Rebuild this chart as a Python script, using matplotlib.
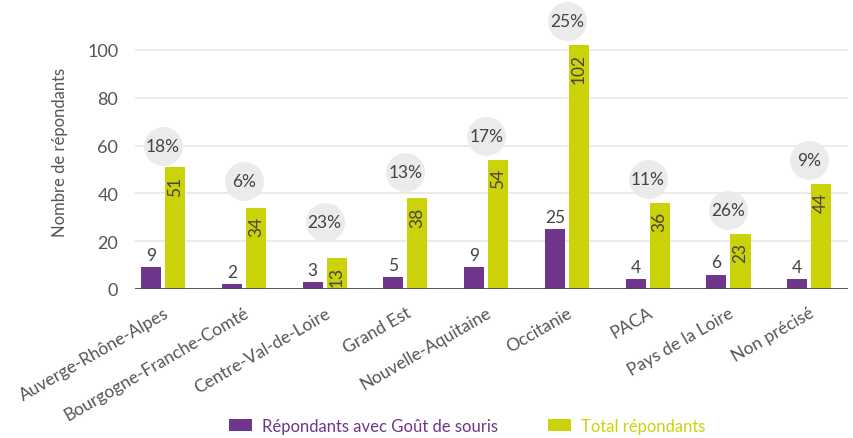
import matplotlib
matplotlib.use("Agg")
import matplotlib.pyplot as plt
import numpy as np

# regional breakdown of survey respondents
regions = ["Auverge-Rhône-Alpes", "Bourgogne-Franche-Comté", "Centre-Val-de-Loire",
           "Grand Est", "Nouvelle-Aquitaine", "Occitanie", "PACA",
           "Pays de la Loire", "Non précisé"]
gout_souris = [9, 2, 3, 5, 9, 25, 4, 6, 4]
total = [51, 34, 13, 38, 54, 102, 36, 23, 44]
# extra height of each percentage badge above its total bar
badge_lift = [9, 11, 15, 11, 10, 10, 10, 10, 10]

purple = "#6f368b"
yellow = "#cbd208"
grey_txt = "#555555"

plt.rcParams["font.family"] = ["Lato", "DejaVu Sans"]

fig = plt.figure(figsize=(8.54, 4.39), dpi=100)
ax = fig.add_axes([135 / 854, 1 - 290 / 439, 713 / 854, 275 / 439])

x = np.arange(len(regions))
w = 0.248
off = 0.149

ax.bar(x - off, gout_souris, w, color=purple, zorder=3, label="Répondants avec Goût de souris")
ax.bar(x + off, total, w, color=yellow, zorder=3, label="Total répondants")

for xi, v in zip(x, gout_souris):
    ax.annotate(str(v), (xi - off, v), xytext=(0, 3), textcoords="offset points",
                ha="center", va="bottom", fontsize=12.5, color="#444444")
for xi, v in zip(x, total):
    ax.annotate(str(v), (xi + off, v), xytext=(0, -6), textcoords="offset points",
                ha="center", va="top", rotation=90, fontsize=12.5, color="#444444", zorder=4)

# percentage badges
for xi, g, t, lift in zip(x, gout_souris, total, badge_lift):
    y = t + lift
    ax.scatter([xi], [y], s=28 ** 2, color="#ebebeb", zorder=4, clip_on=False, linewidths=0)
    ax.text(xi, y, f"{round(100 * g / t)}%", ha="center", va="center",
            fontsize=12.5, color="#444444", zorder=5)

ax.set_xlim(-0.347, 8.48)
ax.set_ylim(0, 115)
ax.set_yticks([0, 20, 40, 60, 80, 100])
ax.grid(axis="y", color="#e8e8e8", lw=1.3, zorder=0)
ax.axhline(0, color="#4a4a4a", lw=2, zorder=6)
for s in ax.spines.values():
    s.set_visible(False)

ax.tick_params(axis="y", length=0, pad=12, labelsize=13, labelcolor=grey_txt)
ax.tick_params(axis="x", length=0, pad=11)
ax.set_xticks(x)
ax.set_xticklabels(regions, rotation=30, ha="right", rotation_mode="anchor",
                   fontsize=12.5, color=grey_txt)
ax.set_ylabel("Nombre de répondants", fontsize=12, color=grey_txt, labelpad=14)

leg = fig.legend(loc="center", bbox_to_anchor=(0.547, 0.028), ncol=2, frameon=False,
                 fontsize=12, handlelength=1.4, handleheight=0.8,
                 handletextpad=0.6, columnspacing=3.0)
for txt, c in zip(leg.get_texts(), [purple, yellow]):
    txt.set_color(c)

fig.savefig("out.png", dpi=100)
